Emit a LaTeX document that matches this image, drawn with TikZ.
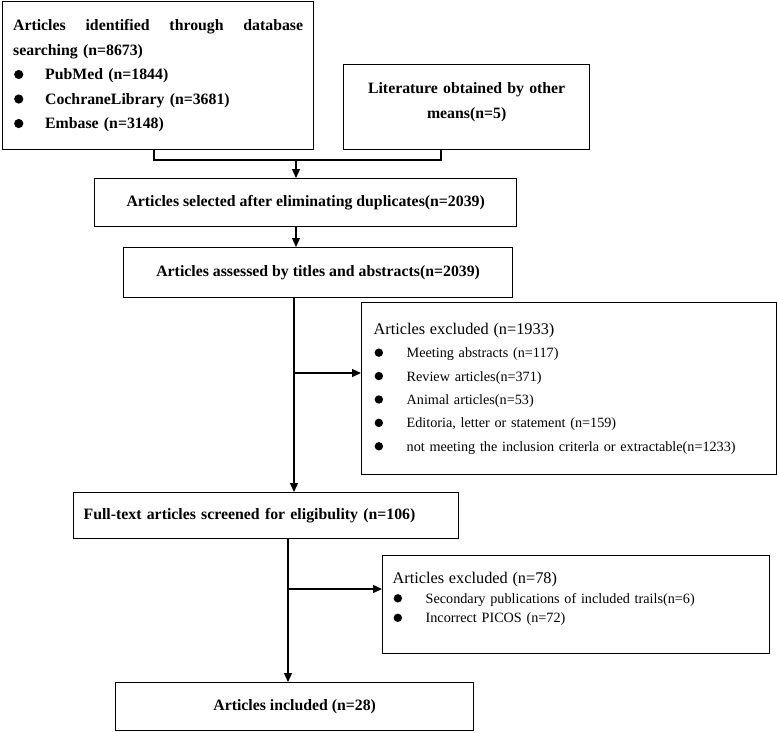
\documentclass[tikz,border=0pt]{standalone}
\usepackage{fontspec}
\setmainfont{Liberation Serif}
\usetikzlibrary{arrows.meta}
\newcommand{\blt}[2]{\makebox[#1][l]{\hspace{1pt}\tikz[baseline={(0pt,-5pt)}]\fill (0pt,0pt) circle (#2);}}
\newcommand{\dstrut}[1]{\rule[-#1]{0pt}{#1}}
\tikzset{
  box/.style={draw, line width=1.3pt, anchor=north west, inner ysep=0pt},
  mainfont/.style={font=\bfseries\fontsize{15.8}{24.5}\selectfont},
  conn/.style={line width=1.3pt},
  arr/.style={line width=1.3pt, -{Triangle[length=9pt,width=8pt]}},
}
\begin{document}
\begin{tikzpicture}[x=1pt,y=-1pt]
\useasboundingbox (0,0) rectangle (777,732);
% boxes
\node[box, mainfont, minimum width=311pt, minimum height=148pt, text width=290pt, inner xsep=10.5pt, align=left] (db) at (2,1)
 {Articles\hfill identified\hfill through\hfill database\\
  searching (n=8673)\\
  \blt{32pt}{4.6pt}PubMed (n=1844)\\
  \blt{32pt}{4.6pt}CochraneLibrary (n=3681)\\
  \blt{32pt}{4.6pt}Embase (n=3148)};
\node[box, mainfont, minimum width=246pt, minimum height=85pt, text width=230pt, align=center] (oth) at (343,64)
 {Literature obtained by other\\ means(n=5)\dstrut{13pt}};
\node[box, mainfont, minimum width=422pt, minimum height=48pt, align=center] (dup) at (94,178)
 {Articles selected after eliminating duplicates(n=2039)};
\node[box, mainfont, minimum width=389pt, minimum height=50pt, align=center] (tit) at (123,247)
 {Articles assessed by titles and abstracts(n=2039)};
\node[box, font=\fontsize{14.2}{23.4}\selectfont, minimum width=415pt, minimum height=172pt, text width=391pt, inner xsep=12pt, align=left] (ex1) at (361,302)
 {{\fontsize{16.3}{23.4}\selectfont Articles excluded (n=1933)}\\
  \blt{33pt}{4.2pt}Meeting abstracts (n=117)\\
  \blt{33pt}{4.2pt}Review articles(n=371)\\
  \blt{33pt}{4.2pt}Animal articles(n=53)\\
  \blt{33pt}{4.2pt}Editoria, letter or statement (n=159)\\
  \blt{33pt}{4.2pt}not meeting the inclusion criterla or extractable(n=1233)};
\node[box, mainfont, minimum width=385pt, minimum height=46pt, text width=365pt, inner xsep=10pt, align=left] (full) at (73,492)
 {Full-text articles screened for eligibulity (n=106)};
\node[box, font=\fontsize{14.2}{19.5}\selectfont, minimum width=387pt, minimum height=98pt, text width=367pt, inner xsep=10pt, align=left] (ex2) at (382,555)
 {{\fontsize{16.3}{19.5}\selectfont Articles excluded (n=78)}\\
  \blt{33pt}{4.2pt}Secondary publications of included trails(n=6)\\
  \blt{33pt}{4.2pt}Incorrect PICOS (n=72)\dstrut{14pt}};
\node[box, mainfont, minimum width=358pt, minimum height=48pt, align=center] (inc) at (115,682)
 {Articles included (n=28)};
% connectors
\coordinate (j1) at (154,160);
\coordinate (j2) at (441,160);
\coordinate (j0) at (296,160);
\draw[conn] (db.south -| j1) -- (j1) -- (j2) -- (oth.south -| j2);
\draw[arr] (j0) -- (dup.north -| j0);
\draw[arr] (dup.south -| j0) -- (tit.north -| j0);
\coordinate (m1) at (294,373);
\draw[arr] (tit.south -| m1) -- (full.north -| m1);
\draw[arr] (m1) -- (ex1.west |- m1);
\coordinate (m2) at (288,589);
\draw[arr] (full.south -| m2) -- (inc.north -| m2);
\draw[arr] (m2) -- (ex2.west |- m2);
\end{tikzpicture}
\end{document}
